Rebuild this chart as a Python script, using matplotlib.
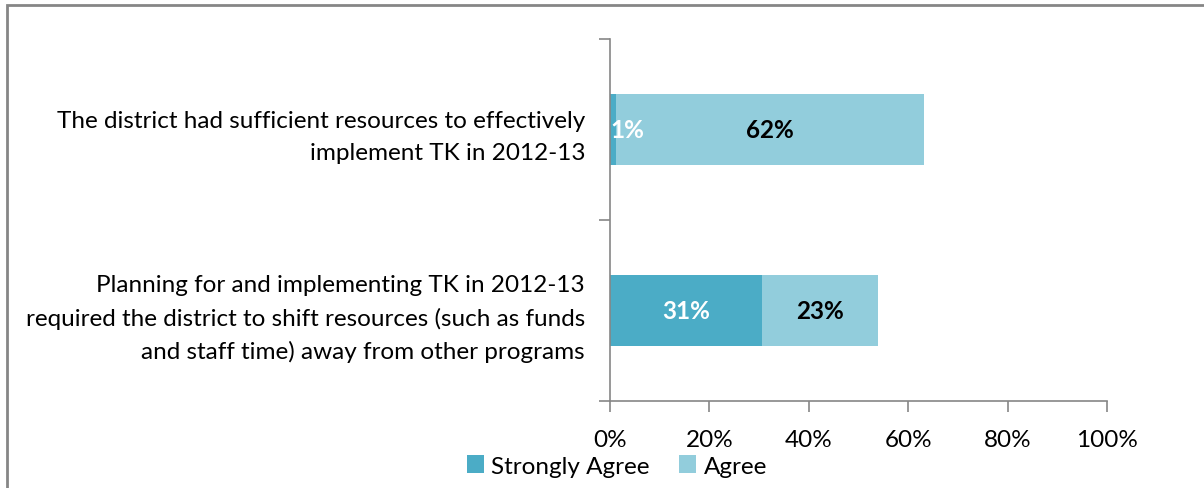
import numpy as np
import matplotlib.pyplot as plt
from matplotlib.patches import Rectangle

# statements, top to bottom
labels = ["The district had sufficient resources to effectively\nimplement TK in 2012-13",
          "Planning for and implementing TK in 2012-13\nrequired the district to shift resources (such as funds\nand staff time) away from other programs"]
strongly_agree = [1.2, 30.6]
agree = [62.0, 23.3]
sa_text = ["1%", "31%"]
ag_text = ["62%", "23%"]
ticks = [0, 20, 40, 60, 80, 100]

plt.rcParams['font.family'] = ['Lato', 'DejaVu Sans']
fs = 17.5

fig = plt.figure(figsize=(12.04, 4.89), dpi=100)
# outer frame, only left and top visible as in the source
fig.patches.append(Rectangle((7 / 1204, -0.1), 1.2, 1.1 - 6 / 489, transform=fig.transFigure,
                             fill=False, edgecolor='#868686', linewidth=2))
ax = fig.add_axes([610 / 1204, 1 - 402 / 489, 497 / 1204, 362 / 489])

y = np.array([1, 0])
h = 0.39
ax.barh(y, strongly_agree, height=h, color='#4BACC6', label='Strongly Agree')
ax.barh(y, agree, left=strongly_agree, height=h, color='#92CDDC', label='Agree')

for i in range(2):
    sa_x = strongly_agree[i] / 2 if strongly_agree[i] > 5 else strongly_agree[i] + 2.2
    ax.text(sa_x, y[i], sa_text[i], color='white', fontsize=fs, fontweight='bold',
            ha='center', va='center')
    ax.text(strongly_agree[i] + agree[i] / 2, y[i], ag_text[i], color='black', fontsize=fs,
            fontweight='bold', ha='center', va='center')

ax.set_xlim(0, 100)
ax.set_ylim(-0.5, 1.5)
ax.set_xticks(ticks)
ax.set_xticklabels([f"{t}%" for t in ticks], fontsize=fs)
ax.set_yticks([-0.5, 0.5, 1.5])
ax.set_yticklabels([])
ax.set_yticks(y, minor=True)
ax.set_yticklabels(labels, minor=True, fontsize=fs)
ax.tick_params(axis='y', which='minor', length=0, pad=18)
ax.tick_params(axis='y', which='major', length=8, color='#868686', width=1.2)
ax.tick_params(axis='x', length=8, color='#868686', width=1.2, pad=12)
for t in ax.get_yticklabels(minor=True):
    t.set_multialignment('right')
    t.set_linespacing(1.62)
for s in ['top', 'right']:
    ax.spines[s].set_visible(False)
for s in ['left', 'bottom']:
    ax.spines[s].set_color('#868686')
    ax.spines[s].set_linewidth(1.2)

fig.legend(loc='center', bbox_to_anchor=(617 / 1204, 1 - 467 / 489), ncol=2, frameon=False,
           fontsize=fs, handlelength=0.7, handleheight=0.7, handletextpad=0.3,
           columnspacing=1.2, borderpad=0)

fig.savefig('out.png', dpi=100)
